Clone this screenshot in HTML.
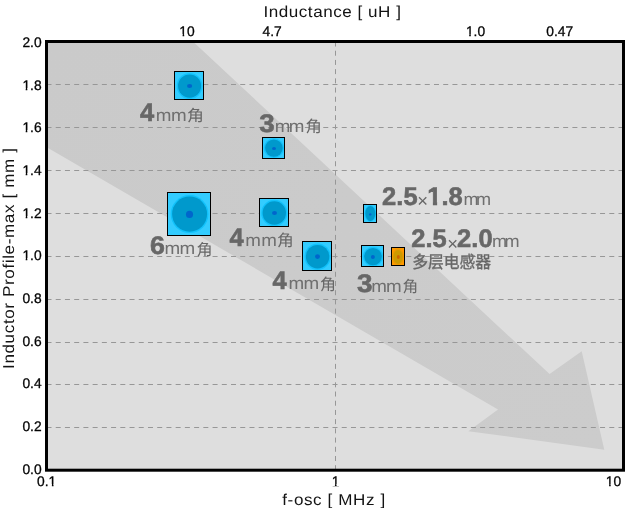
<!DOCTYPE html>
<html><head><meta charset="utf-8"><title>chart</title>
<style>
html,body{margin:0;padding:0;background:#fff;}
body{width:638px;height:508px;overflow:hidden;font-family:"Liberation Sans",sans-serif;}
svg{display:block;}
text{font-family:"Liberation Sans",sans-serif;text-rendering:geometricPrecision;}
.t{font-size:13.8px;fill:#000;stroke:#000;stroke-width:0.3px;}
.ti{font-size:15.8px;fill:#111;}
.b{font-weight:bold;fill:#666;stroke:#666;stroke-width:0.6px;}
.mm{fill:#6e6e6e;}
.x{fill:#666;}
.cj{font-family:"Liberation Sans","Noto Sans CJK SC",sans-serif;fill:#666666;}
.g{stroke:#979797;stroke-width:1;stroke-dasharray:5 4.226;}
</style></head><body>
<svg width="638" height="508" viewBox="0 0 638 508">
<defs><linearGradient id="ag" gradientUnits="userSpaceOnUse" x1="48" y1="43" x2="604" y2="450"><stop offset="0" stop-color="#cacaca"/><stop offset="1" stop-color="#cccccc"/></linearGradient></defs>
<g>
<rect x="46.5" y="41.5" width="577" height="428.5" fill="#dedede"/>
<polygon fill="url(#ag)" points="46.5,41.5 194.5,43 549.6,374.1 581.7,351.3 604.3,449.7 468.3,431.2 498,409.5 48,147.9 46.5,147.6"/>
<line x1="46.5" x2="623.5" y1="84.5" y2="84.5" class="g"/>
<line x1="46.5" x2="623.5" y1="127.5" y2="127.5" class="g"/>
<line x1="46.5" x2="623.5" y1="170.5" y2="170.5" class="g"/>
<line x1="46.5" x2="623.5" y1="213.5" y2="213.5" class="g"/>
<line x1="46.5" x2="623.5" y1="256.5" y2="256.5" class="g"/>
<line x1="46.5" x2="623.5" y1="299.5" y2="299.5" class="g"/>
<line x1="46.5" x2="623.5" y1="342.5" y2="342.5" class="g"/>
<line x1="46.5" x2="623.5" y1="384.5" y2="384.5" class="g"/>
<line x1="46.5" x2="623.5" y1="427.5" y2="427.5" class="g"/>
<line x1="335.5" x2="335.5" y1="41.5" y2="470.2" class="g" style="stroke-dasharray:5 4.211"/>
<rect x="46.5" y="41.5" width="577" height="428.7" fill="none" stroke="#000" stroke-width="3"/>
<rect x="174.50" y="71.50" width="29.00" height="28.00" fill="#33ccff"/><ellipse cx="189.60" cy="86.10" rx="12.90" ry="13.10" fill="#12c2fb"/><ellipse cx="189.60" cy="86.10" rx="11.50" ry="11.70" fill="#0099cc"/><ellipse cx="189.60" cy="86.00" rx="2.60" ry="2.00" fill="#0066cc"/><rect x="174.50" y="71.50" width="29.00" height="28.00" fill="none" stroke="#000" stroke-width="1"/>
<rect x="262.50" y="137.50" width="22.00" height="21.00" fill="#33ccff"/><ellipse cx="273.90" cy="148.10" rx="10.20" ry="9.80" fill="#12c2fb"/><ellipse cx="273.90" cy="148.10" rx="8.80" ry="8.70" fill="#0099cc"/><ellipse cx="274.00" cy="148.40" rx="2.00" ry="1.50" fill="#0066cc"/><rect x="262.50" y="137.50" width="22.00" height="21.00" fill="none" stroke="#000" stroke-width="1"/>
<rect x="167.50" y="192.50" width="43.00" height="43.00" fill="#33ccff"/><ellipse cx="189.60" cy="214.10" rx="18.90" ry="19.00" fill="#12c2fb"/><ellipse cx="189.60" cy="214.10" rx="17.50" ry="17.60" fill="#0099cc"/><ellipse cx="189.50" cy="214.40" rx="3.55" ry="3.55" fill="#0066cc"/><rect x="167.50" y="192.50" width="43.00" height="43.00" fill="none" stroke="#000" stroke-width="1"/>
<rect x="259.50" y="198.50" width="29.00" height="28.00" fill="#33ccff"/><ellipse cx="274.30" cy="213.00" rx="13.10" ry="13.20" fill="#12c2fb"/><ellipse cx="274.30" cy="213.00" rx="11.70" ry="11.80" fill="#0099cc"/><ellipse cx="274.50" cy="213.00" rx="2.50" ry="2.00" fill="#0066cc"/><rect x="259.50" y="198.50" width="29.00" height="28.00" fill="none" stroke="#000" stroke-width="1"/>
<rect x="302.50" y="241.50" width="29.00" height="29.00" fill="#33ccff"/><ellipse cx="317.60" cy="256.70" rx="13.10" ry="13.20" fill="#12c2fb"/><ellipse cx="317.60" cy="256.70" rx="11.70" ry="11.80" fill="#0099cc"/><ellipse cx="317.50" cy="256.60" rx="2.50" ry="2.40" fill="#0066cc"/><rect x="302.50" y="241.50" width="29.00" height="29.00" fill="none" stroke="#000" stroke-width="1"/>
<rect x="363.50" y="204.50" width="13.00" height="18.00" fill="#33ccff"/><ellipse cx="370.30" cy="213.50" rx="5.80" ry="8.30" fill="#12c2fb"/><ellipse cx="370.30" cy="213.50" rx="5.00" ry="7.40" fill="#0099cc"/><ellipse cx="370.30" cy="214.40" rx="1.20" ry="1.20" fill="#0066cc"/><rect x="363.50" y="204.50" width="13.00" height="18.00" fill="none" stroke="#000" stroke-width="1"/>
<rect x="361.50" y="245.50" width="22.00" height="21.00" fill="#33ccff"/><ellipse cx="373.00" cy="256.60" rx="10.20" ry="9.80" fill="#12c2fb"/><ellipse cx="373.00" cy="256.60" rx="8.80" ry="8.70" fill="#0099cc"/><ellipse cx="372.90" cy="256.90" rx="2.00" ry="2.00" fill="#0066cc"/><rect x="361.50" y="245.50" width="22.00" height="21.00" fill="none" stroke="#000" stroke-width="1"/>
<rect x="391.50" y="247.50" width="13.00" height="18.00" fill="#ff9900"/><ellipse cx="398.00" cy="256.90" rx="5.80" ry="8.20" fill="#e89900"/><ellipse cx="398.00" cy="256.90" rx="4.60" ry="6.80" fill="#cc9900"/><ellipse cx="398.30" cy="256.90" rx="1.50" ry="2.00" fill="#cc6600"/><rect x="391.50" y="247.50" width="13.00" height="18.00" fill="none" stroke="#000" stroke-width="1"/>
</g>
<g opacity="0.99">
<text x="139.91" y="121.10" class="b" style="font-size:25.5px">4</text><text transform="translate(155.65 121.10) scale(1.0889 1)" class="mm" style="font-size:17.3px;letter-spacing:-0.27px">mm</text><text transform="translate(186.95 121.22) scale(1.0823 1)" class="cj" style="font-size:15.68px">角</text>
<text transform="translate(259.26 132.40) scale(1.090 1)" class="b" style="font-size:25.5px">3</text><text transform="translate(274.85 132.40) scale(1.0889 1)" class="mm" style="font-size:17.3px;letter-spacing:-1.55px">mm</text><text transform="translate(305.48 132.40) scale(1.0289 1)" class="cj" style="font-size:15.9px">角</text>
<text transform="translate(150.02 254.40) scale(1.050 1)" class="b" style="font-size:25.5px">6</text><text transform="translate(164.55 254.40) scale(1.0889 1)" class="mm" style="font-size:17.3px;letter-spacing:-0.64px">mm</text><text transform="translate(196.40 254.63) scale(1.0353 1)" class="cj" style="font-size:15.57px">角</text>
<text x="229.61" y="245.50" class="b" style="font-size:25.5px">4</text><text transform="translate(245.35 245.50) scale(1.0889 1)" class="mm" style="font-size:17.3px;letter-spacing:0.10px">mm</text><text transform="translate(277.06 245.58) scale(1.0459 1)" class="cj" style="font-size:16.11px">角</text>
<text x="272.61" y="289.20" class="b" style="font-size:25.5px">4</text><text transform="translate(288.55 289.20) scale(1.0889 1)" class="mm" style="font-size:17.3px;letter-spacing:-0.64px">mm</text><text transform="translate(319.90 289.50) scale(1.0063 1)" class="cj" style="font-size:15.9px">角</text>
<text transform="translate(356.96 291.90) scale(1.090 1)" class="b" style="font-size:25.5px">3</text><text transform="translate(371.15 291.90) scale(1.0889 1)" class="mm" style="font-size:17.3px;letter-spacing:-0.82px">mm</text><text transform="translate(402.62 291.81) scale(0.9975 1)" class="cj" style="font-size:15.79px">角</text>
<text x="382.12" y="205.00" class="b" style="font-size:25.5px">2.5</text><text x="417.32" y="207.20" class="x" style="font-size:18.5px">×</text><text x="427.29" y="205.00" class="b" style="font-size:25.5px">1.8</text><rect x="428.00" y="202.00" width="4.87" height="4.00" fill="#dedede"/><rect x="437.12" y="202.00" width="4.88" height="4.00" fill="#dedede"/><text transform="translate(463.50 205.00) scale(1.0477 1)" class="mm" style="font-size:17.3px;letter-spacing:-2.58px">mm</text>
<text x="411.22" y="247.30" class="b" style="font-size:25.5px">2.5</text><text x="447.22" y="249.70" class="x" style="font-size:18.5px">×</text><text x="457.12" y="247.30" class="b" style="font-size:25.5px">2.0</text><text transform="translate(492.10 247.30) scale(1.0477 1)" class="mm" style="font-size:17.3px;letter-spacing:-2.58px">mm</text>
<g fill="#666666" stroke="#666666" stroke-width="0.36"><text transform="translate(412.20 267.60) scale(0.9261 1)" class="cj" style="font-size:17.06px">多层电感器</text></g>
<text x="22.42" y="47.00" class="t">2.0</text>
<text x="22.42" y="89.66" class="t">1.8</text><rect x="23.00" y="88.00" width="2.69" height="3.00" fill="#ffffff"/><rect x="27.31" y="88.00" width="2.69" height="3.00" fill="#ffffff"/>
<text x="22.42" y="132.33" class="t">1.6</text><rect x="23.00" y="130.00" width="2.69" height="3.00" fill="#ffffff"/><rect x="27.31" y="130.00" width="2.69" height="3.00" fill="#ffffff"/>
<text x="22.42" y="175.00" class="t">1.4</text><rect x="23.00" y="173.00" width="2.69" height="3.00" fill="#ffffff"/><rect x="27.31" y="173.00" width="2.69" height="3.00" fill="#ffffff"/>
<text x="22.42" y="217.66" class="t">1.2</text><rect x="23.00" y="216.00" width="2.69" height="3.00" fill="#ffffff"/><rect x="27.31" y="216.00" width="2.69" height="3.00" fill="#ffffff"/>
<text x="22.42" y="260.32" class="t">1.0</text><rect x="23.00" y="258.00" width="2.69" height="3.00" fill="#ffffff"/><rect x="27.31" y="258.00" width="2.69" height="3.00" fill="#ffffff"/>
<text x="22.42" y="302.99" class="t">0.8</text>
<text x="22.42" y="345.65" class="t">0.6</text>
<text x="22.42" y="388.32" class="t">0.4</text>
<text x="22.42" y="430.99" class="t">0.2</text>
<text x="22.42" y="473.65" class="t">0.0</text>
<text x="37.11" y="485.80" class="t">0.1</text><rect x="49.00" y="484.00" width="2.89" height="3.00" fill="#ffffff"/><rect x="53.51" y="484.00" width="2.49" height="3.00" fill="#ffffff"/>
<text x="331.66" y="485.50" class="t">1</text><rect x="332.00" y="484.00" width="2.93" height="2.00" fill="#ffffff"/><rect x="336.55" y="484.00" width="3.45" height="2.00" fill="#ffffff"/>
<text x="605.83" y="485.80" class="t">10</text><rect x="606.00" y="484.00" width="3.10" height="3.00" fill="#ffffff"/><rect x="610.71" y="484.00" width="3.29" height="3.00" fill="#ffffff"/>
<text x="179.33" y="36.00" class="t">10</text><rect x="180.00" y="34.00" width="2.60" height="3.00" fill="#ffffff"/><rect x="184.21" y="34.00" width="2.79" height="3.00" fill="#ffffff"/>
<text x="262.61" y="36.00" class="t">4.7</text>
<text x="465.91" y="36.00" class="t">1.0</text><rect x="466.00" y="34.00" width="3.18" height="3.00" fill="#ffffff"/><rect x="470.80" y="34.00" width="3.20" height="3.00" fill="#ffffff"/>
<text x="546.37" y="36.00" class="t">0.47</text>
<text transform="translate(263.43 16.60) scale(1.080 1)" class="ti" style="letter-spacing:0.497px">Inductance [ uH ]</text>
<text transform="translate(282.26 504.60) scale(1.080 1)" class="ti" style="letter-spacing:0.556px">f-osc [ MHz ]</text>
<text transform="translate(14.2 368.97) rotate(-90) scale(1.080 1)" class="ti" style="letter-spacing:0.576px">Inductor Profile-max [ mm ]</text>
</g>
</svg>
</body></html>
